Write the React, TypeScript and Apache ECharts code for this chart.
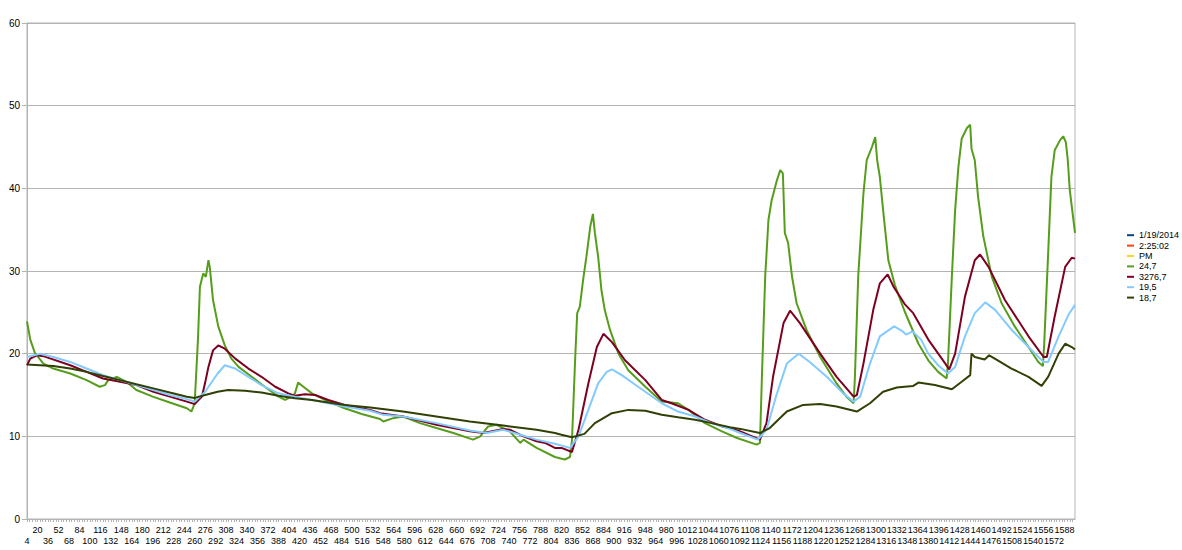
import React, { useEffect, useRef } from "react";
import * as echarts from "echarts";

// Category axis: row numbers 4 … 1604
const FIRST_CATEGORY = 4;
const LAST_CATEGORY = 1604;
const categories: string[] = Array.from(
  { length: LAST_CATEGORY - FIRST_CATEGORY + 1 },
  (_, i) => String(FIRST_CATEGORY + i)
);

const seriesNames = ["1/19/2014", "2:25:02", "PM", "24,7", "3276,7", "19,5", "18,7"];
const seriesColors = ["#004586", "#ff420e", "#ffd320", "#579d1c", "#7e0021", "#83caff", "#314004"];

const yMin = 0;
const yMax = 60;
const yStep = 10;

// Series values: [category, value]
const s1_19_2014: [number, number][] = [];
const s2_25_02: [number, number][] = [];
const sPM: [number, number][] = [];

const s24_7: [number, number][] = [
  [4, 23.9], [9, 21.7], [16, 20.1], [29, 18.8], [44, 18.2], [70, 17.6], [95, 16.8], [115, 16.0],
  [123, 16.2], [128, 16.8], [141, 17.2], [156, 16.6], [171, 15.6], [196, 14.8], [222, 14.1],
  [248, 13.4], [255, 13.0], [260, 14.0], [265, 21.7], [268, 28.1], [273, 29.7], [277, 29.3],
  [281, 31.3], [283, 30.5], [288, 26.5], [296, 23.3], [306, 21.0], [316, 19.4], [327, 18.4],
  [347, 17.2], [367, 16.0], [388, 14.8], [398, 14.4], [408, 14.8], [413, 15.2], [418, 16.5],
  [426, 16.0], [439, 15.2], [464, 14.2], [489, 13.4], [515, 12.7], [543, 12.1], [548, 11.8],
  [563, 12.2], [578, 12.4], [604, 11.6], [629, 11.0], [655, 10.4], [685, 9.6], [696, 10.0],
  [708, 11.2], [721, 11.4], [741, 10.6], [757, 9.2], [762, 9.6], [782, 8.6], [810, 7.5],
  [825, 7.2], [833, 7.5], [836, 9.5], [841, 19.6], [844, 24.9], [848, 25.7], [853, 28.9],
  [858, 31.7], [864, 35.4], [868, 36.9], [871, 34.6], [876, 31.7], [881, 27.7], [886, 25.3],
  [894, 22.9], [907, 20.0], [922, 18.0], [948, 16.0], [973, 14.2], [998, 14.0], [1014, 13.2],
  [1039, 11.6], [1065, 10.6], [1088, 9.8], [1118, 9.0], [1123, 9.2], [1126, 17.2], [1131, 29.3],
  [1136, 36.2], [1141, 38.6], [1149, 41.0], [1154, 42.2], [1158, 41.8], [1161, 34.6],
  [1166, 33.4], [1172, 29.3], [1179, 26.1], [1194, 22.9], [1215, 19.6], [1240, 16.4],
  [1255, 14.8], [1266, 14.0], [1268, 17.2], [1273, 29.3], [1281, 39.4], [1286, 43.4],
  [1294, 45.0], [1299, 46.2], [1302, 43.4], [1306, 41.4], [1311, 37.4], [1319, 31.3],
  [1329, 28.3], [1344, 25.1], [1365, 21.2], [1380, 19.2], [1395, 17.8], [1408, 17.0],
  [1410, 18.8], [1416, 29.3], [1421, 37.4], [1426, 42.6], [1431, 46.0], [1439, 47.3],
  [1444, 47.7], [1446, 44.8], [1451, 43.4], [1456, 39.0], [1464, 34.2], [1477, 29.3],
  [1492, 26.1], [1512, 23.3], [1533, 20.8], [1548, 19.0], [1555, 18.5], [1557, 21.2],
  [1563, 32.1], [1568, 41.4], [1573, 44.6], [1581, 45.8], [1586, 46.3], [1590, 45.6],
  [1593, 43.4], [1596, 39.8], [1604, 34.6],
];

const s3276_7: [number, number][] = [
  [4, 18.6], [9, 19.4], [19, 19.8], [29, 19.7], [70, 18.6], [95, 17.8], [120, 17.0], [146, 16.6],
  [171, 16.2], [197, 15.4], [222, 14.8], [248, 14.2], [260, 13.9], [271, 14.8], [276, 16.5],
  [281, 18.4], [288, 20.4], [296, 21.0], [306, 20.6], [322, 19.4], [342, 18.2], [362, 17.2],
  [383, 16.0], [403, 15.2], [413, 14.9], [428, 15.1], [444, 15.0], [464, 14.4], [489, 13.8],
  [528, 13.2], [543, 12.8], [578, 12.4], [629, 11.4], [680, 10.6], [701, 10.4], [731, 10.9],
  [741, 10.8], [762, 10.0], [782, 9.4], [795, 9.2], [810, 8.6], [820, 8.6], [836, 8.1],
  [846, 10.8], [861, 16.4], [874, 20.8], [884, 22.4], [897, 21.4], [917, 19.2], [948, 16.8],
  [973, 14.4], [988, 14.0], [1014, 13.2], [1039, 12.0], [1065, 11.2], [1077, 11.0],
  [1093, 10.6], [1123, 9.6], [1133, 11.6], [1143, 17.2], [1159, 23.7], [1169, 25.2],
  [1184, 23.7], [1215, 20.0], [1240, 17.2], [1266, 14.8], [1271, 15.0], [1281, 18.8],
  [1296, 25.3], [1306, 28.5], [1318, 29.6], [1327, 28.1], [1344, 26.0], [1357, 24.9],
  [1380, 21.7], [1406, 18.8], [1412, 18.1], [1421, 20.0], [1436, 26.9], [1451, 31.3],
  [1459, 32.0], [1472, 30.5], [1497, 26.5], [1533, 22.1], [1556, 19.6], [1561, 19.6],
  [1573, 24.5], [1589, 30.5], [1599, 31.6], [1604, 31.5],
];

const s19_5: [number, number][] = [
  [4, 19.6], [24, 20.0], [44, 19.6], [70, 19.0], [95, 18.2], [120, 17.4], [146, 16.8],
  [171, 16.2], [197, 15.6], [222, 15.0], [248, 14.5], [260, 14.2], [276, 15.4], [295, 17.6],
  [306, 18.6], [322, 18.2], [342, 17.2], [362, 16.2], [388, 15.2], [413, 14.8], [439, 14.4],
  [464, 14.0], [489, 13.6], [528, 13.1], [548, 12.6], [578, 12.4], [629, 11.6], [680, 10.7],
  [706, 10.4], [731, 10.8], [757, 10.2], [782, 9.6], [810, 9.1], [833, 8.6], [846, 10.0],
  [861, 13.2], [876, 16.4], [889, 17.8], [897, 18.1], [912, 17.4], [937, 16.0], [973, 14.0],
  [998, 13.0], [1024, 12.4], [1049, 11.6], [1077, 10.9], [1093, 10.4], [1120, 9.6],
  [1133, 10.8], [1149, 15.2], [1164, 18.8], [1182, 20.0], [1199, 19.0], [1225, 17.2],
  [1250, 15.2], [1266, 14.2], [1276, 14.8], [1291, 18.8], [1306, 22.1], [1328, 23.3],
  [1341, 22.7], [1346, 22.3], [1356, 22.7], [1369, 21.7], [1380, 20.0], [1395, 18.6],
  [1410, 17.6], [1421, 18.4], [1436, 22.1], [1451, 24.9], [1467, 26.2], [1482, 25.3],
  [1507, 22.9], [1533, 20.8], [1556, 19.0], [1563, 19.0], [1579, 22.1], [1594, 24.7],
  [1604, 25.9],
];

const s18_7: [number, number][] = [
  [4, 18.7], [44, 18.5], [70, 18.2], [95, 17.8], [120, 17.3], [146, 16.8], [171, 16.3],
  [197, 15.8], [222, 15.3], [248, 14.8], [260, 14.65], [276, 15.0], [295, 15.4], [311, 15.6],
  [337, 15.5], [362, 15.3], [388, 14.9], [413, 14.6], [439, 14.4], [464, 14.1], [489, 13.8],
  [528, 13.5], [578, 13.0], [629, 12.4], [680, 11.8], [731, 11.3], [782, 10.8], [810, 10.4],
  [820, 10.2], [836, 9.9], [855, 10.3], [871, 11.6], [897, 12.8], [922, 13.2], [948, 13.1],
  [973, 12.6], [998, 12.3], [1024, 12.0], [1049, 11.6], [1077, 11.1], [1093, 10.9],
  [1123, 10.4], [1138, 11.0], [1164, 13.0], [1189, 13.8], [1215, 13.9], [1240, 13.6],
  [1271, 13.0], [1291, 14.0], [1311, 15.4], [1332, 15.9], [1344, 16.0], [1357, 16.1],
  [1365, 16.5], [1390, 16.2], [1416, 15.7], [1431, 16.6], [1444, 17.4], [1446, 20.0],
  [1451, 19.6], [1466, 19.3], [1473, 19.8], [1486, 19.2], [1507, 18.2], [1533, 17.2],
  [1553, 16.1], [1563, 17.2], [1579, 20.0], [1589, 21.2], [1599, 20.8], [1604, 20.5],
];

const seriesData = [s1_19_2014, s2_25_02, sPM, s24_7, s3276_7, s19_5, s18_7];

const FONT = "'Liberation Sans', Arial, sans-serif";
const GRID_COLOR = "#b3b3b3";

export default function App() {
  const ref = useRef<HTMLDivElement>(null);

  useEffect(() => {
    if (!ref.current) return;
    const chart = echarts.init(ref.current, undefined, { renderer: "svg" });
    chart.setOption({
      animation: false,
      backgroundColor: "#ffffff",
      textStyle: { fontFamily: FONT },
      grid: {
        left: 27,
        top: 23,
        right: 107,
        bottom: 31,
        show: true,
        borderColor: GRID_COLOR,
        borderWidth: 1,
        containLabel: false,
      },
      legend: {
        orient: "vertical",
        left: 1122,
        top: 225,
        itemWidth: 7,
        itemHeight: 2,
        itemGap: 0,
        icon: "rect",
        data: seriesNames,
        textStyle: {
          fontFamily: FONT,
          fontSize: 9,
          color: "#000",
          lineHeight: 10.4,
        },
      },
      xAxis: {
        type: "category",
        data: categories,
        boundaryGap: false,
        axisLine: { show: true, lineStyle: { color: GRID_COLOR } },
        axisTick: {
          show: true,
          interval: 3,
          length: 3,
          lineStyle: { color: GRID_COLOR },
        },
        axisLabel: {
          interval: 15,
          fontSize: 9,
          fontFamily: FONT,
          color: "#000",
          margin: 5,
          lineHeight: 11,
          formatter: (value: string) => {
            const n = Number(value);
            return ((n - FIRST_CATEGORY) / 16) % 2 === 0 ? "\n" + value : value;
          },
        },
        splitLine: { show: false },
      },
      yAxis: {
        type: "value",
        min: yMin,
        max: yMax,
        interval: yStep,
        axisLine: { show: true, lineStyle: { color: GRID_COLOR } },
        axisTick: { show: true, length: 5, lineStyle: { color: GRID_COLOR } },
        axisLabel: { fontSize: 10, fontFamily: FONT, color: "#000", margin: 7 },
        splitLine: { show: true, lineStyle: { color: GRID_COLOR, width: 1 } },
      },
      series: seriesNames.map((name, i) => ({
        name,
        type: "line",
        data: seriesData[i].map(([c, v]) => [String(c), v]),
        showSymbol: false,
        symbol: "none",
        color: seriesColors[i],
        lineStyle: { width: 2, color: seriesColors[i] },
        emphasis: { disabled: true },
      })),
    });
    return () => chart.dispose();
  }, []);

  return (
    <div
      ref={ref}
      style={{ position: "fixed", left: 0, top: 0, width: 1182, height: 550, background: "#fff" }}
    />
  );
}
